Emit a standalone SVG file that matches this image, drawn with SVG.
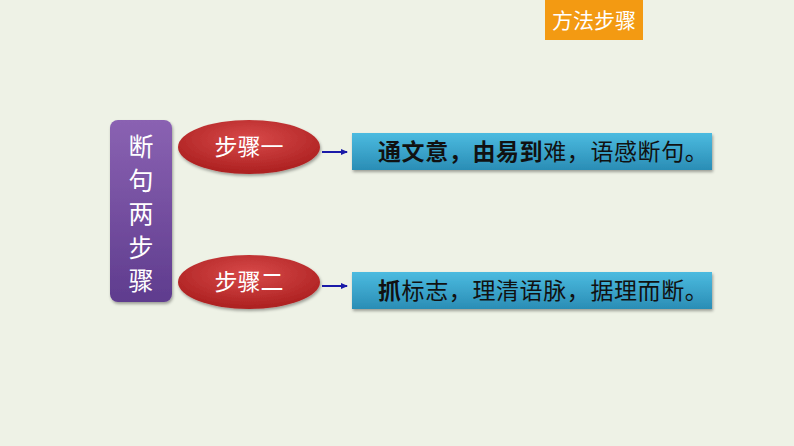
<svg xmlns="http://www.w3.org/2000/svg" width="794" height="446" viewBox="0 0 794 446">
<style>
.cjk{font-family:"Noto Sans CJK SC","Noto Sans CJK TC",sans-serif}
.w{fill:#fff}
.b{fill:#111}
.conn{stroke:#1a1aa8;stroke-width:2;fill:none}
</style>
<defs>
<linearGradient id="pg" x1="0" y1="0" x2="0" y2="1"><stop offset="0" stop-color="#8a62b2"/><stop offset="1" stop-color="#5f3c8e"/></linearGradient>
<radialGradient id="rg" cx="0.5" cy="0.35" r="0.7"><stop offset="0" stop-color="#d84a4a"/><stop offset="1" stop-color="#a81c1c"/></radialGradient>
<linearGradient id="bg" x1="0" y1="0" x2="0" y2="1"><stop offset="0" stop-color="#4cbbe0"/><stop offset="1" stop-color="#2a8db5"/></linearGradient>
<marker id="ah" markerWidth="8" markerHeight="8" refX="6" refY="3" orient="auto" markerUnits="userSpaceOnUse"><path d="M0,0 L7,3 L0,6 Z" fill="#1a1aa8"/></marker>
<filter id="sh" x="-10%" y="-20%" width="130%" height="160%"><feDropShadow dx="1" dy="2" stdDeviation="1.5" flood-opacity="0.35"/></filter>
</defs>
<rect width="794" height="446" fill="#eef2e6"/>
<g id="header"><rect x="545" y="0" width="98" height="40" fill="#f39a12"/><text x="594" y="28" text-anchor="middle" font-size="21" class="cjk w">方法步骤</text></g>
<g id="title"><rect x="110" y="120" width="62" height="182" rx="8" fill="url(#pg)" filter="url(#sh)"/>
<text x="141" y="156" text-anchor="middle" font-size="25" class="cjk w">断</text>
<text x="141" y="190" text-anchor="middle" font-size="25" class="cjk w">句</text>
<text x="141" y="223" text-anchor="middle" font-size="25" class="cjk w">两</text>
<text x="141" y="257" text-anchor="middle" font-size="25" class="cjk w">步</text>
<text x="141" y="290" text-anchor="middle" font-size="25" class="cjk w">骤</text></g>
<g id="step1"><ellipse cx="249" cy="147" rx="71" ry="27" fill="url(#rg)" filter="url(#sh)"/><text x="249" y="155" text-anchor="middle" font-size="23" class="cjk w">步骤一</text></g>
<g id="step2"><ellipse cx="249" cy="282" rx="71" ry="27" fill="url(#rg)" filter="url(#sh)"/><text x="249" y="290" text-anchor="middle" font-size="23" class="cjk w">步骤二</text></g>
<g id="connectors"><line class="conn" x1="322" y1="152" x2="347" y2="152" marker-end="url(#ah)"/><line class="conn" x1="322" y1="286" x2="347" y2="286" marker-end="url(#ah)"/></g>
<g id="box1"><rect x="352" y="133" width="360" height="37" fill="url(#bg)" filter="url(#sh)"/><text x="378" y="160" font-size="23" letter-spacing="0.6" class="cjk b"><tspan font-weight="bold">通文意，</tspan><tspan font-weight="bold">由易到</tspan>难，语感断句。</text></g>
<g id="box2"><rect x="352" y="272" width="360" height="37" fill="url(#bg)" filter="url(#sh)"/><text x="378" y="299" font-size="23" letter-spacing="0.6" class="cjk b"><tspan font-weight="bold">抓</tspan>标志，理清语脉，据理而断。</text></g>
</svg>
